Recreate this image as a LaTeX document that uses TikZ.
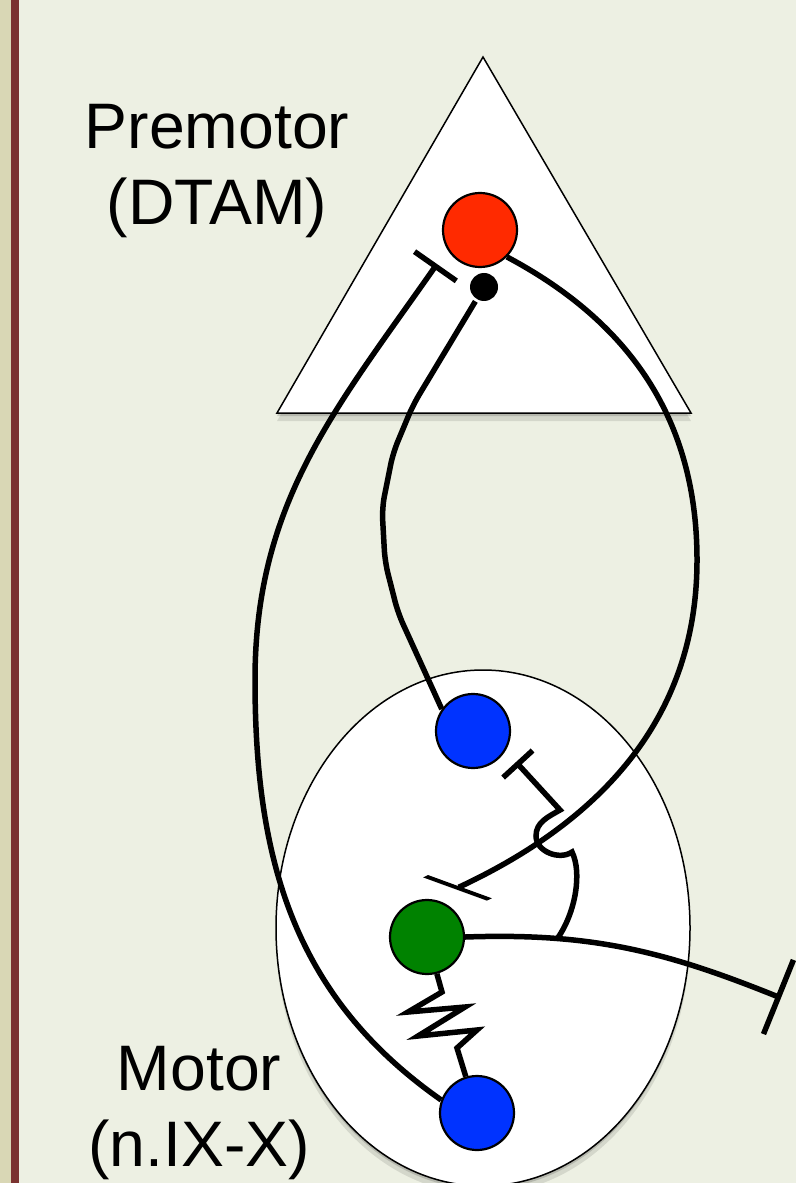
\documentclass[tikz,border=0pt]{standalone}
\usepackage{fontspec}
\setmainfont{Liberation Sans}
\usetikzlibrary{arrows.meta}
\definecolor{slidebg}{HTML}{EDF0E3}
\definecolor{slideedge}{HTML}{D9D7B5}
\definecolor{sliderule}{HTML}{7B3230}
\definecolor{cellred}{HTML}{FF2A00}
\definecolor{cellblue}{HTML}{0033FF}
\definecolor{cellgreen}{HTML}{008200}

\begin{document}
\begin{tikzpicture}[
  x=0.1mm, y=-0.1mm,
  line width=0.55mm,
  cell/.style={circle, draw=black, line width=0.22mm, minimum size=7.4mm, inner sep=0pt},
  exc/.style={circle, fill=black, minimum size=2.8mm, inner sep=0pt},
  region/.style={draw=black, fill=white, line width=0.15mm,
    preaction={fill=black, opacity=0.10, transform canvas={yshift=-0.8mm}},
    preaction={fill=black, opacity=0.15, transform canvas={yshift=-0.3mm}}},
  axon/.style={draw=black, line width=0.55mm},
  inh/.style={axon, -{Bar[width=#1]}},
  area/.style={font=\fontsize{18.3}{21.5}\selectfont, align=center, inner sep=0pt}
]
  % slide background
  \fill[slidebg] (0,0) rectangle (796,1183);
  \fill[slideedge] (0,0) rectangle (11,1183);
  \fill[sliderule] (11,0) rectangle (19,1183);
  \useasboundingbox (0,0) rectangle (796,1183);

  % nuclei
  \draw[region] (483,57) -- (691,413) -- (277,413) -- cycle;
  \draw[region] (483,928) ellipse [x radius=207, y radius=258];

  \node[area] (premotor) at (217,171) {Premotor\\(DTAM)};
  \node[area] (motor) at (199,1113) {Motor\\(n.IX-X)};

  % cells
  \node[cell, fill=cellred] (pre) at (480,230) {};
  \node[cell, fill=cellblue] (mtop) at (473,731) {};
  \node[cell, fill=cellgreen] (mmid) at (427,937) {};
  \node[cell, fill=cellblue] (mbot) at (477,1113) {};
  \node[exc] (dot) at (484,287) {};

  \coordinate (syn1) at (437,264);
  \coordinate (syn2) at (455,889);
  \coordinate (syn3) at (516,762);
  \coordinate (syn4) at (781,998);

  % connections
  \draw[inh=5.1mm] (mbot.160) to[out=145, in=-90] (255,680) to[out=90, in=-125] (syn1);
  \draw[axon, rounded corners=1.2mm] (mtop.145) -- (398,613) -- (385,562) -- (382,508) -- (393,453) -- (413,405) -- (dot);
  \draw[axon, -{Bar[width=4.8mm, slant=-1]}] (pre.-45) to[out=-28, in=90] (697,560) to[out=-90, in=25] (syn2);
  \draw[inh=8mm] (mmid.east) to[out=2, in=158] coordinate[pos=0.27] (branch) (syn4);
  \draw[inh=4mm] (branch) .. controls (576,912) and (582,872) .. (572,852)
    to[out=214, in=-90] (536,836) to[out=90, in=210] (560,810) -- (syn3);
  \draw[axon] (mmid.-75) -- (442,992) -- (408,1012) -- (465,1007) -- (418,1036) -- (477,1030) -- (457,1048) -- (mbot);
\end{tikzpicture}
\end{document}
